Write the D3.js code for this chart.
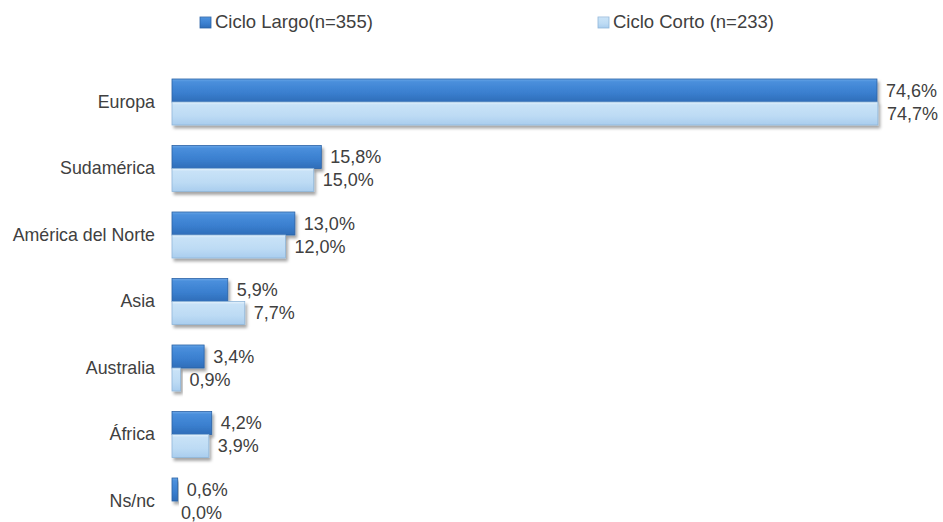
<!DOCTYPE html>
<html><head><meta charset="utf-8">
<script src="https://cdn.jsdelivr.net/npm/d3@7"></script>
<style>
body{margin:0;background:#fff;}
svg text{font-family:"Liberation Sans",Arial,sans-serif;fill:#404040;}
</style></head>
<body><div id="chart"></div>
<script>
const categories = ["Europa","Sudamérica","América del Norte","Asia","Australia","África","Ns/nc"];
const cicloLargo = [74.6,15.8,13.0,5.9,3.4,4.2,0.6];
const cicloCorto = [74.7,15.0,12.0,7.7,0.9,3.9,0.0];
const seriesNames = ["Ciclo Largo(n=355)","Ciclo Corto (n=233)"];

const W=943,H=522;
const svg=d3.select("#chart").append("svg").attr("width",W).attr("height",H);
const defs=svg.append("defs");
function grad(id,stops){
  const g=defs.append("linearGradient").attr("id",id).attr("x1",0).attr("y1",0).attr("x2",0).attr("y2",1);
  stops.forEach(s=>g.append("stop").attr("offset",s[0]).attr("stop-color",s[1]));
}
grad("gDark",[[0,"#6aa6e6"],[0.12,"#4a8fdc"],[0.6,"#3a7fcf"],[1,"#2f6db8"]]);
grad("gLight",[[0,"#e6f2fc"],[0.12,"#c8e2f7"],[0.6,"#bddbf4"],[1,"#a9cdee"]]);
const f=defs.append("filter").attr("id","sh").attr("x","-10%").attr("y","-30%").attr("width","130%").attr("height","180%");
f.append("feDropShadow").attr("dx",2).attr("dy",3).attr("stdDeviation",1.6).attr("flood-color","#000").attr("flood-opacity",0.35);

const x=d3.scaleLinear().domain([0,80]).range([172,172+80*9.45]);
const y=d3.scaleBand().domain(categories).range([68.75,68.75+66.5*categories.length]);
const bh=23;

const series=[
  {name:seriesNames[0],vals:cicloLargo,fill:"url(#gDark)",stroke:"#2a62a6",off:-bh},
  {name:seriesNames[1],vals:cicloCorto,fill:"url(#gLight)",stroke:"#8fb6d9",off:0}
];

// category labels
svg.append("g").selectAll("text").data(categories).join("text")
  .attr("x",155).attr("y",d=>y(d)+y.bandwidth()/2+1).attr("text-anchor","end")
  .attr("dominant-baseline","middle").style("font-size","17.8px").text(d=>d);

series.forEach((s,si)=>{
  const g=svg.append("g");
  g.selectAll("rect").data(categories).join("rect")
    .attr("x",x(0)).attr("y",(d)=>y(d)+y.bandwidth()/2+s.off)
    .attr("width",(d,i)=>Math.max(0,x(s.vals[i])-x(0)))
    .attr("height",bh).attr("fill",s.fill).attr("stroke",s.stroke).attr("stroke-width",0.8)
    .attr("filter","url(#sh)");
  g.selectAll("text").data(categories).join("text")
    .attr("x",(d,i)=>x(s.vals[i])+9)
    .attr("y",(d)=>y(d)+y.bandwidth()/2+s.off+bh/2+1.5)
    .attr("dominant-baseline","middle").style("font-size","18px")
    .text((d,i)=>d3.format(".1f")(s.vals[i]).replace(".",",")+"%");
});

// legend
const lg=[{x:200,fill:"url(#gDark)",stroke:"#2a62a6"},{x:598,fill:"url(#gLight)",stroke:"#8fb6d9"}];
lg.forEach((l,i)=>{
  svg.append("rect").attr("x",l.x).attr("y",17).attr("width",11).attr("height",11)
    .attr("fill",l.fill).attr("stroke",l.stroke).attr("stroke-width",0.8);
  svg.append("text").attr("x",l.x+15).attr("y",23).attr("dominant-baseline","middle")
    .style("font-size","18.5px").text(seriesNames[i]);
});
</script></body></html>
